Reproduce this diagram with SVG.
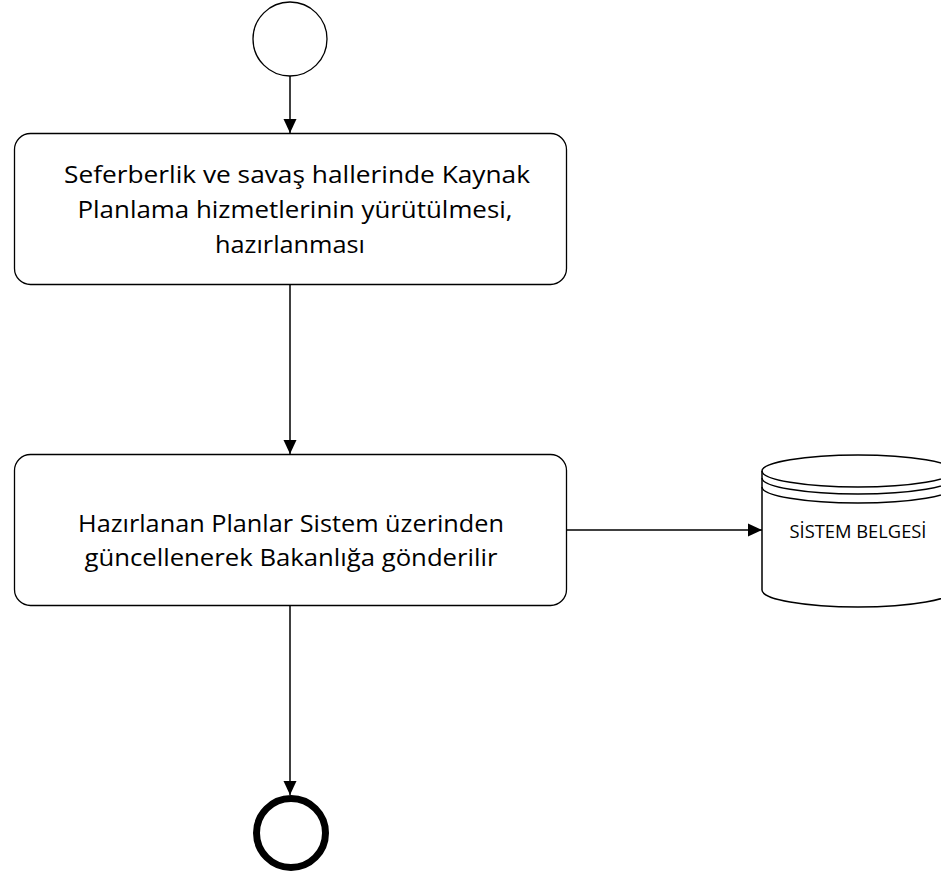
<svg xmlns="http://www.w3.org/2000/svg" width="941" height="877" viewBox="0 0 941 877">
<defs>
<style>
.box{fill:#fff;stroke:#000;stroke-width:1.3}
.t{font-family:"Open Sans","Liberation Sans",sans-serif;font-size:23px;fill:#000;text-anchor:middle}
.s{font-family:"Open Sans","Liberation Sans",sans-serif;font-size:19px;fill:#000;text-anchor:middle}
.c{stroke:#000;stroke-width:1.5;fill:none}
.cy{fill:none;stroke:#000;stroke-width:1.5}
</style>
<marker id="ahv" markerWidth="14" markerHeight="14" refX="14" refY="7" orient="auto" markerUnits="userSpaceOnUse">
<path d="M0,0.5 L14,7 L0,13.5 Z" fill="#000"/>
</marker>
</defs>
<g id="connectors">
<line class="c" x1="290" y1="76" x2="290" y2="133" marker-end="url(#ahv)"/>
<line class="c" x1="290" y1="285" x2="290" y2="454" marker-end="url(#ahv)"/>
<line class="c" x1="290" y1="606" x2="290" y2="795" marker-end="url(#ahv)"/>
<line class="c" x1="566" y1="530" x2="762" y2="530" marker-end="url(#ahv)"/>
</g>
<g id="start">
<circle cx="290" cy="39" r="37" fill="#fff" stroke="#000" stroke-width="1.3"/>
</g>
<g id="task1">
<rect class="box" x="14.5" y="133.5" width="552" height="151" rx="16"/>
<text class="t" x="297" y="183" textLength="466" lengthAdjust="spacingAndGlyphs">Seferberlik ve savaş hallerinde Kaynak</text>
<text class="t" x="295" y="218" textLength="435" lengthAdjust="spacingAndGlyphs">Planlama hizmetlerinin yürütülmesi,</text>
<text class="t" x="290" y="253" textLength="150" lengthAdjust="spacingAndGlyphs">hazırlanması</text>
</g>
<g id="task2">
<rect class="box" x="14.5" y="454.5" width="552" height="151" rx="16"/>
<text class="t" x="291" y="532" textLength="426" lengthAdjust="spacingAndGlyphs">Hazırlanan Planlar Sistem üzerinden</text>
<text class="t" x="291" y="566" textLength="413" lengthAdjust="spacingAndGlyphs">güncellenerek Bakanlığa gönderilir</text>
</g>
<g id="datastore">
<path d="M762,471 L762,590 A96,17 0 0 0 954,590 L954,471 A96,16 0 0 0 762,471 Z" fill="#fff" stroke="#000" stroke-width="1.5"/>
<path class="cy" d="M762,471 A96,16 0 0 0 954,471"/>
<path class="cy" d="M762,478 A96,16 0 0 0 954,478"/>
<path class="cy" d="M762,487 A96,16 0 0 0 954,487"/>
<text class="s" x="858" y="538" textLength="137" lengthAdjust="spacingAndGlyphs">SİSTEM BELGESİ</text>
</g>
<g id="end">
<circle cx="291" cy="833" r="34.5" fill="#fff" stroke="#000" stroke-width="7"/>
</g>
</svg>
